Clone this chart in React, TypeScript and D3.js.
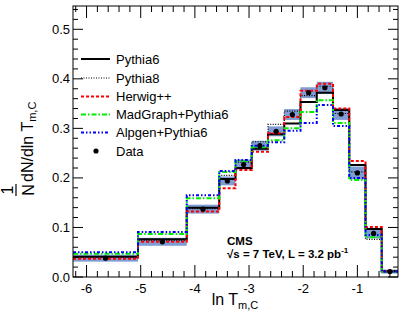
import * as d3 from 'd3'

// bin edges in ln T_m,C
const edges = [-6.25, -5.05, -4.15, -3.55, -3.25, -2.95, -2.65, -2.35, -2.05, -1.75, -1.45, -1.15, -0.85, -0.55, -0.25]

const dataVals = [0.038, 0.071, 0.137, 0.194, 0.227, 0.265, 0.294, 0.328, 0.372, 0.382, 0.329, 0.210, 0.088, 0.011]
const dataErr = [0.007, 0.008, 0.009, 0.009, 0.010, 0.010, 0.010, 0.011, 0.011, 0.012, 0.012, 0.013, 0.010, 0.004]
const pythia6 = [0.041, 0.076, 0.140, 0.198, 0.220, 0.259, 0.288, 0.310, 0.353, 0.372, 0.337, 0.226, 0.097, 0.012]
const pythia8 = [0.040, 0.074, 0.138, 0.205, 0.232, 0.273, 0.308, 0.335, 0.366, 0.385, 0.330, 0.212, 0.076, 0.010]
const herwig = [0.037, 0.071, 0.132, 0.179, 0.216, 0.253, 0.290, 0.323, 0.376, 0.390, 0.340, 0.234, 0.101, 0.012]
const madgraph = [0.047, 0.087, 0.159, 0.212, 0.234, 0.262, 0.276, 0.300, 0.333, 0.357, 0.311, 0.196, 0.080, 0.011]
const alpgen = [0.050, 0.091, 0.165, 0.214, 0.236, 0.265, 0.272, 0.295, 0.311, 0.347, 0.305, 0.200, 0.085, 0.011]

const xTickVals = [-6, -5, -4, -3, -2, -1]
const yTickVals = [0, 0.1, 0.2, 0.3, 0.4, 0.5]

const series = [
  { name: 'Pythia6', values: pythia6, color: '#000', width: 2, dash: 'none' },
  { name: 'Pythia8', values: pythia8, color: '#000', width: 1.2, dash: '1,1.5' },
  { name: 'Herwig++', values: herwig, color: '#ff0000', width: 2, dash: '3,2' },
  { name: 'MadGraph+Pythia6', values: madgraph, color: '#00ee00', width: 2, dash: '5,2,1.5,2' },
  { name: 'Alpgen+Pythia6', values: alpgen, color: '#0000ff', width: 2, dash: '3,2,1.5,2,1.5,2' },
]

const W = 407
const H = 322
const left = 73
const right = 398
const top = 6
const bottom = 277

const font = 'Liberation Sans, Arial, sans-serif'

const App = () => {
  const x = d3.scaleLinear().domain([-6.25, -0.25]).range([left, right])
  const y = d3.scaleLinear().domain([0, 0.547]).range([bottom, top])

  const makePath = (vals: number[]) => {
    const pts: [number, number][] = edges.map((e, i) => [x(e), y(vals[Math.min(i, vals.length - 1)])])
    return d3.line().curve(d3.curveStepAfter)(pts) || ''
  }

  const xMinor = d3.range(-6.2, -0.25, 0.2).map((v) => Math.round(v * 10) / 10)
  const yMinor = d3.range(0, 0.547, 0.02)

  const legendY = [59, 78, 96.5, 114.5, 132.5, 151]

  return (
    <svg
      width={W}
      height={H}
      style={{ position: 'absolute', left: 0, top: 0, background: 'white' }}
      fontFamily={font}
    >
      <rect width={W} height={H} fill="white" />

      {/* data uncertainty boxes */}
      {dataVals.map((v, i) => (
        <rect
          key={'b' + i}
          x={x(edges[i])}
          y={y(v + dataErr[i])}
          width={x(edges[i + 1]) - x(edges[i])}
          height={y(v - dataErr[i]) - y(v + dataErr[i])}
          fill="#7f9dd4"
        />
      ))}

      {/* MC histograms */}
      {series.map((s) => (
        <path
          key={s.name}
          d={makePath(s.values)}
          fill="none"
          stroke={s.color}
          strokeWidth={s.width}
          strokeDasharray={s.dash}
        />
      ))}

      {/* data points */}
      {dataVals.map((v, i) => (
        <circle key={'d' + i} cx={x((edges[i] + edges[i + 1]) / 2)} cy={y(v)} r={2.6} fill="#000" />
      ))}

      {/* frame */}
      <rect x={left} y={top} width={right - left} height={bottom - top} fill="none" stroke="#000" strokeWidth={1} />

      {/* x ticks */}
      {xMinor.map((v) => {
        const major = xTickVals.some((t) => Math.abs(t - v) < 1e-6)
        const len = major ? 12 : 6
        return (
          <g key={'xt' + v}>
            <line x1={x(v)} x2={x(v)} y1={bottom} y2={bottom - len} stroke="#000" />
            <line x1={x(v)} x2={x(v)} y1={top} y2={top + len} stroke="#000" />
          </g>
        )
      })}
      {xTickVals.map((v) => (
        <text key={'xl' + v} x={x(v)} y={293} fontSize={13} textAnchor="middle">
          {v}
        </text>
      ))}

      {/* y ticks */}
      {yMinor.map((v) => {
        const major = Math.abs(v * 10 - Math.round(v * 10)) < 1e-6
        const len = major ? 10 : 5
        return (
          <g key={'yt' + v}>
            <line x1={left} x2={left + len} y1={y(v)} y2={y(v)} stroke="#000" />
            <line x1={right} x2={right - len} y1={y(v)} y2={y(v)} stroke="#000" />
          </g>
        )
      })}
      {yTickVals.map((v) => (
        <text key={'yl' + v} x={70} y={y(v)} dy="0.35em" fontSize={13} textAnchor="end">
          {v.toFixed(1)}
        </text>
      ))}

      {/* x title */}
      <text x={235} y={305} fontSize={16} textAnchor="middle">
        ln T<tspan fontSize={11} dy={4}>m,C</tspan>
      </text>

      {/* y title */}
      <g transform="translate(34,196) rotate(-90)">
        <text x={6} y={-21} fontSize={16} textAnchor="middle">1</text>
        <line x1={0} x2={12} y1={-18} y2={-18} stroke="#000" strokeWidth={1.2} />
        <text x={6} y={0} fontSize={16} textAnchor="middle">N</text>
        <text x={14} y={-1} fontSize={16}>
          dN/dln T<tspan fontSize={11} dy={3}>m,C</tspan>
        </text>
      </g>

      {/* legend */}
      {series.map((s, i) => (
        <g key={'lg' + s.name}>
          <line
            x1={81}
            x2={110}
            y1={legendY[i]}
            y2={legendY[i]}
            stroke={s.color}
            strokeWidth={s.width}
            strokeDasharray={s.dash}
          />
          <text x={116} y={legendY[i]} dy="0.35em" fontSize={13}>
            {s.name}
          </text>
        </g>
      ))}
      <circle cx={96} cy={legendY[5]} r={2.6} fill="#000" />
      <text x={116} y={legendY[5]} dy="0.35em" fontSize={13}>
        Data
      </text>

      {/* CMS label */}
      <text x={227} y={245} fontSize={11.5} fontWeight="bold">
        CMS
      </text>
      <text x={227} y={258} fontSize={11.5} fontWeight="bold">
        √s = 7 TeV, L = 3.2 pb<tspan fontSize={8} dy={-5}>-1</tspan>
      </text>
    </svg>
  )
}

export default App
